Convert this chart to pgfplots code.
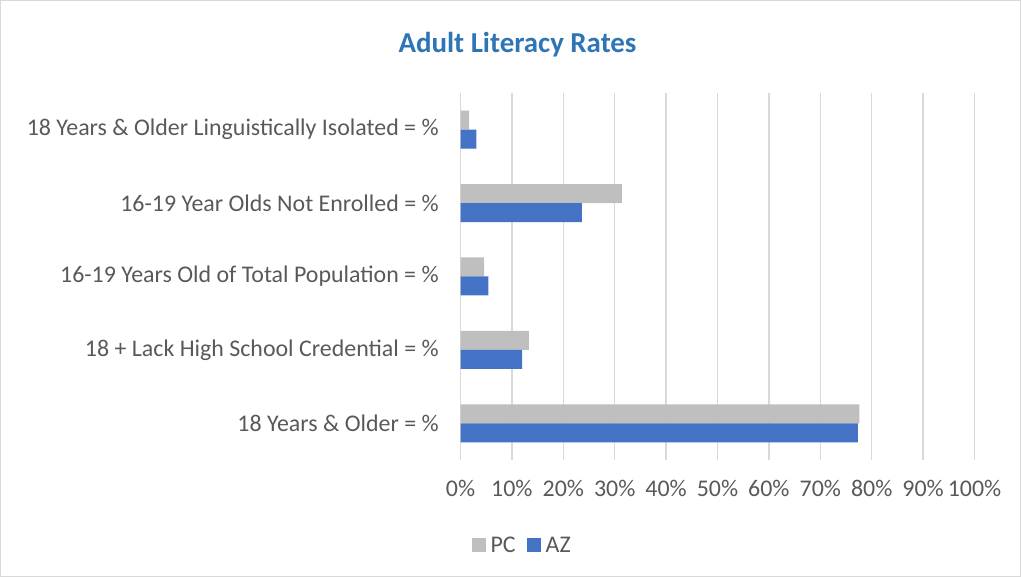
\documentclass[border=0pt]{standalone}
\usepackage{fontspec}
\setmainfont{Carlito}
\usepackage{pgfplots}
\pgfplotsset{compat=1.18}
\definecolor{pcgray}{HTML}{BFBFBF}
\definecolor{azblue}{HTML}{4472C4}
\definecolor{titleblue}{HTML}{2E75B6}
\definecolor{txtgray}{HTML}{595959}
\definecolor{gridgray}{HTML}{D9D9D9}
\begin{document}
\begin{tikzpicture}[x=1bp,y=1bp]
\draw[gridgray, line width=1bp] (0.5,0.5) rectangle (1020.5,576.5);
\node[font=\fontsize{29}{32}\selectfont\bfseries, text=titleblue] at (517.5,532) {Adult Literacy Rates};
\begin{axis}[
  at={(460.5bp,117bp)}, anchor=south west,
  scale only axis, width=514bp, height=367bp,
  xbar, bar width=19bp,
  xmin=0, xmax=100, ymin=-0.5, ymax=4.5,
  xtick={0,10,...,100},
  xticklabels={0\%,10\%,20\%,30\%,40\%,50\%,60\%,70\%,80\%,90\%,100\%},
  ytick={0,1,2,3,4},
  yticklabels={18 Years \& Older = \%, 18 + Lack High School Credential = \%,
    16-19 Years Old of Total Population = \%, 16-19 Year Olds Not Enrolled = \%,
    18 Years \& Older Linguistically Isolated = \%},
  axis line style={draw=none}, major tick style={draw=none},
  xmajorgrids, grid style={gridgray, line width=1.3bp},
  tick label style={font=\fontsize{24}{28}\selectfont, text=txtgray},
  xticklabel style={yshift=-17bp},
  yticklabel style={xshift=-14bp},
  legend style={at={(0.12,-0.232)}, anchor=center, draw=none, legend columns=2,
    font=\fontsize{24}{28}\selectfont, text=txtgray,
    /tikz/every even column/.append style={column sep=9bp},
    /tikz/every odd column/.append style={column sep=3bp}},
  legend image code/.code={\fill[#1] (0bp,-7bp) rectangle (14bp,7bp);},
]
\addplot[fill=pcgray, draw=none, bar shift=9.5bp]
  coordinates {(77.6,0) (13.3,1) (4.6,2) (31.4,3) (1.7,4)};
\addplot[fill=azblue, draw=none, bar shift=-9.5bp]
  coordinates {(77.3,0) (12.0,1) (5.4,2) (23.6,3) (3.1,4)};
\legend{PC, AZ}
\end{axis}
\end{tikzpicture}
\end{document}
